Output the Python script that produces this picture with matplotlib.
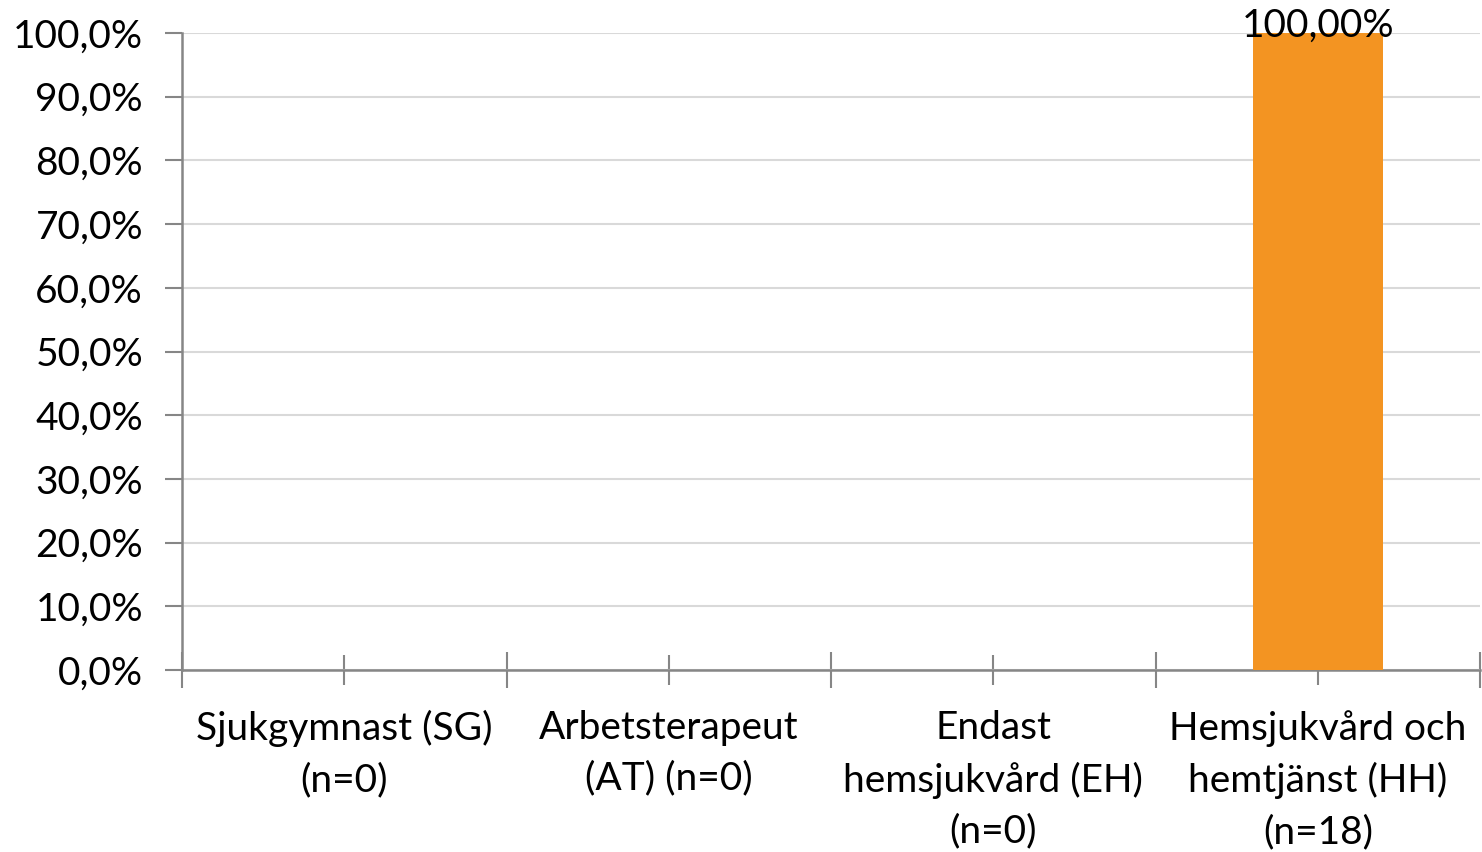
import matplotlib.pyplot as plt
import numpy as np

# data
categories = ['Sjukgymnast (SG)\n(n=0)', 'Arbetsterapeut\n(AT) (n=0)',
              'Endast\nhemsjukvård (EH)\n(n=0)',
              'Hemsjukvård och\nhemtjänst (HH)\n(n=18)']
values = [0, 0, 0, 100]
yticks = [0, 10, 20, 30, 40, 50, 60, 70, 80, 90, 100]

plt.rcParams['font.family'] = ['Lato', 'DejaVu Sans']

fig = plt.figure(figsize=(14.82, 8.52), dpi=100)
ax = fig.add_axes([182 / 1482, 1 - 670 / 852, 1298 / 1482, 637 / 852])

x = np.arange(len(categories))
ax.bar(x, values, width=0.4, color='#F39422', zorder=3)

# data label only where there is a value
for xi, v in zip(x, values):
    if v > 0:
        ax.annotate(f'{v:.2f}%'.replace('.', ','), (xi, v),
                    xytext=(0, 5), textcoords='offset points',
                    ha='center', va='center', fontsize=28, color='black',
                    zorder=4)

ax.set_xlim(-0.5, len(categories) - 0.5)
ax.set_ylim(0, 100)
ax.set_yticks(yticks)
ax.set_yticklabels([f'{t:.1f}%'.replace('.', ',') for t in yticks],
                   fontsize=28)
ax.set_xticks(x)
ax.set_xticklabels(categories, fontsize=28, linespacing=1.5)
ax.set_xticks(np.arange(-0.5, len(categories)), minor=True)

ax.grid(axis='y', color='#D9D9D9', linewidth=1.5, zorder=0)
for s in ['top', 'right']:
    ax.spines[s].set_visible(False)
for s in ['left', 'bottom']:
    ax.spines[s].set_color('#868686')
    ax.spines[s].set_linewidth(1.8)

ax.tick_params(axis='y', direction='out', length=12, width=1.5,
               color='#868686', pad=16)
ax.tick_params(axis='x', which='major', direction='inout', length=22,
               width=1.5, color='#868686', pad=18)
ax.tick_params(axis='x', which='minor', direction='inout', length=26,
               width=1.5, color='#868686')

fig.savefig('out.png', dpi=100)
